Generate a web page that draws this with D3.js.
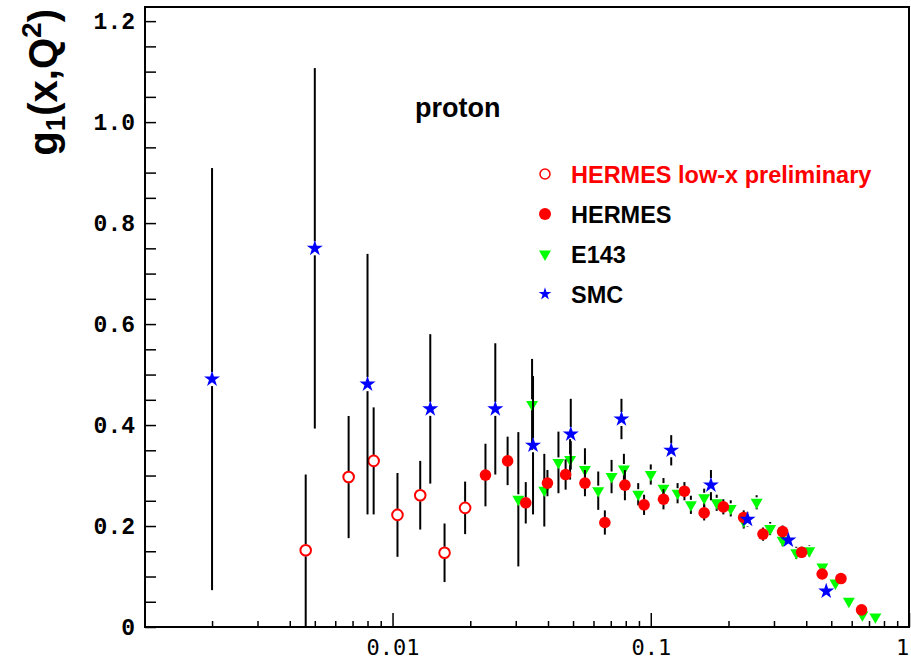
<!DOCTYPE html>
<html>
<head>
<meta charset="utf-8">
<script src="https://cdn.jsdelivr.net/npm/d3@7"></script>
<style>
  body { margin: 0; background: #fff; }
  svg { display: block; }
</style>
</head>
<body>
<svg id="chart" width="911" height="665"></svg>
<script>
// Data
const smcX   = [0.002, 0.005, 0.008, 0.014, 0.025, 0.035, 0.049, 0.077, 0.12, 0.171, 0.237, 0.341, 0.478];
const smcY   = [0.491, 0.750, 0.481, 0.432, 0.432, 0.360, 0.382, 0.412, 0.350, 0.281, 0.213, 0.172, 0.071];
const smcErr = [0.418, 0.357, 0.258, 0.148, 0.130, 0.137, 0.070, 0.040, 0.030, 0.030, 0.015, 0.013, 0.010];

const lowxX   = [0.00461, 0.00676, 0.00845, 0.01045, 0.0128, 0.0159, 0.0191];
const lowxY   = [0.152, 0.297, 0.329, 0.222, 0.261, 0.147, 0.236];
const lowxErr = [0.150, 0.121, 0.106, 0.083, 0.068, 0.058, 0.052];

const hermesX   = [0.0229, 0.0279, 0.0328, 0.0398, 0.0468, 0.0556, 0.0664, 0.0794, 0.0942, 0.112, 0.135, 0.161, 0.191, 0.229, 0.272, 0.324, 0.384, 0.461, 0.545, 0.655];
const hermesY   = [0.301, 0.329, 0.246, 0.285, 0.302, 0.285, 0.207, 0.281, 0.242, 0.253, 0.269, 0.226, 0.238, 0.217, 0.184, 0.189, 0.148, 0.105, 0.096, 0.034];
const hermesErr = [0.062, 0.048, 0.041, 0.026, 0.030, 0.026, 0.024, 0.030, 0.020, 0.020, 0.018, 0.015, 0.015, 0.014, 0.013, 0.012, 0.011, 0.010, 0.009, 0.008];

const e143X   = [0.0307, 0.0347, 0.0387, 0.0439, 0.0487, 0.0556, 0.0626, 0.0705, 0.0787, 0.0894, 0.100, 0.112, 0.127, 0.143, 0.161, 0.180, 0.204, 0.229, 0.257, 0.290, 0.324, 0.366, 0.411, 0.462, 0.519, 0.585, 0.660, 0.741];
const e143Y   = [0.253, 0.441, 0.271, 0.326, 0.332, 0.312, 0.270, 0.298, 0.313, 0.263, 0.302, 0.275, 0.265, 0.242, 0.256, 0.246, 0.235, 0.210, 0.247, 0.195, 0.172, 0.147, 0.151, 0.119, 0.087, 0.051, 0.024, 0.020];
const e143Err = [0.133, 0.090, 0.072, 0.061, 0.040, 0.042, 0.038, 0.033, 0.030, 0.022, 0.020, 0.020, 0.020, 0.018, 0.018, 0.016, 0.016, 0.015, 0.014, 0.013, 0.012, 0.012, 0.011, 0.010, 0.010, 0.008, 0.007, 0.006];

const xTickLabels = [0.01, 0.1, 1];
const yTickLabels = [0, 0.2, 0.4, 0.6, 0.8, 1.0, 1.2];

const legendLabels = ["HERMES low-x preliminary", "HERMES", "E143", "SMC"];

// Layout
const svg = d3.select("#chart");
const margin = {left: 145, right: 909, top: 7, bottom: 627};

const x = d3.scaleLog().domain([0.0011, 1]).range([margin.left, margin.right]);
const y = d3.scaleLinear().domain([0, 1.228]).range([margin.bottom, margin.top]);

const zip = (xs, ys, es) => xs.map((v, i) => ({x: v, y: ys[i], e: es[i]}));

// clip for the plot area
svg.append("clipPath").attr("id", "plotClip")
  .append("rect")
  .attr("x", margin.left).attr("y", margin.top)
  .attr("width", margin.right - margin.left).attr("height", margin.bottom - margin.top);

const plot = svg.append("g").attr("clip-path", "url(#plotClip)");

const star = d3.symbol().type(d3.symbolStar).size(80);
const tri = d3.symbol().type(d3.symbolTriangle).size(62);

function drawErrors(data, gap) {
  const g = plot.append("g").attr("stroke", "#000").attr("stroke-width", 2);
  data.forEach(d => {
    const yc = y(d.y), yt = y(d.y + d.e), yb = y(d.y - d.e);
    if (yc - gap > yt) g.append("line").attr("x1", x(d.x)).attr("x2", x(d.x)).attr("y1", yt).attr("y2", yc - gap);
    if (yb > yc + gap) g.append("line").attr("x1", x(d.x)).attr("x2", x(d.x)).attr("y1", yc + gap).attr("y2", yb);
  });
}

// E143
const e143 = zip(e143X, e143Y, e143Err);
drawErrors(e143, 5);
plot.append("g").selectAll("path").data(e143).enter().append("path")
  .attr("d", tri)
  .attr("transform", d => `translate(${x(d.x)},${y(d.y)}) rotate(180)`)
  .attr("fill", "#00ff00");

// HERMES
const hermes = zip(hermesX, hermesY, hermesErr);
drawErrors(hermes, 5);
plot.append("g").selectAll("circle").data(hermes).enter().append("circle")
  .attr("cx", d => x(d.x)).attr("cy", d => y(d.y)).attr("r", 5.8)
  .attr("fill", "#ff0000");

// HERMES low-x preliminary
const lowx = zip(lowxX, lowxY, lowxErr);
drawErrors(lowx, 6);
plot.append("g").selectAll("circle").data(lowx).enter().append("circle")
  .attr("cx", d => x(d.x)).attr("cy", d => y(d.y)).attr("r", 5.3)
  .attr("fill", "#fff").attr("stroke", "#ff0000").attr("stroke-width", 2);

// SMC
const smc = zip(smcX, smcY, smcErr);
drawErrors(smc, 7);
plot.append("g").selectAll("path").data(smc).enter().append("path")
  .attr("d", star)
  .attr("transform", d => `translate(${x(d.x)},${y(d.y)})`)
  .attr("fill", "#0000ff");

// Axes
const yAxis = d3.axisLeft(y)
  .tickValues(d3.range(0, 1.2001, 0.05))
  .tickSize(-11)
  .tickPadding(10)
  .tickFormat(d => {
    const m = yTickLabels.find(v => Math.abs(v - d) < 1e-6);
    return m === undefined ? "" : (m === 0 ? "0" : d3.format(".1f")(m));
  });
const yg = svg.append("g").attr("transform", `translate(${margin.left},0)`).call(yAxis);
yg.select(".domain").remove();
yg.selectAll("line").attr("stroke-width", 1.5);
yg.selectAll("text")
  .attr("font-family", "Liberation Mono, Courier New, monospace")
  .attr("font-weight", "bold").attr("font-size", 23).attr("fill", "#000");

const minorX = [];
[0.001, 0.01, 0.1].forEach(dec => { for (let k = 2; k <= 9; k++) minorX.push(dec * k); });
const xMinor = d3.axisBottom(x).tickValues(minorX.filter(v => v >= 0.0011)).tickSize(-6).tickFormat("");
const xm = svg.append("g").attr("transform", `translate(0,${margin.bottom})`).call(xMinor);
xm.select(".domain").remove();
xm.selectAll("line").attr("stroke-width", 1.5);

const xAxis = d3.axisBottom(x).tickValues(xTickLabels).tickSize(-14).tickPadding(12)
  .tickFormat(d => d === 1 ? "1" : String(d));
const xg = svg.append("g").attr("transform", `translate(0,${margin.bottom})`).call(xAxis);
xg.select(".domain").remove();
xg.selectAll("line").attr("stroke-width", 1.5);
xg.selectAll("text")
  .attr("font-family", "DejaVu Sans Mono, monospace")
  .attr("font-size", 22).attr("fill", "#000")
  .attr("dx", d => d === 1 ? -7 : 0);

// Frame
svg.append("rect")
  .attr("x", margin.left).attr("y", margin.top)
  .attr("width", margin.right - margin.left).attr("height", margin.bottom - margin.top)
  .attr("fill", "none").attr("stroke", "#000").attr("stroke-width", 2);

// Y title
const title = svg.append("text")
  .attr("transform", "translate(57,9) rotate(-90)")
  .attr("text-anchor", "end")
  .attr("font-family", "Liberation Sans, Arial, Helvetica, sans-serif")
  .attr("font-weight", "bold").attr("font-size", 40);
title.append("tspan").text("g");
title.append("tspan").attr("font-size", 28).attr("dy", 8).text("1");
title.append("tspan").attr("dy", -8).text("(x,Q");
title.append("tspan").attr("font-size", 28).attr("dy", -16).text("2");
title.append("tspan").attr("dy", 16).text(")");

// proton label
svg.append("text")
  .attr("x", 415).attr("y", 117)
  .attr("font-family", "Liberation Sans, Arial, Helvetica, sans-serif")
  .attr("font-weight", "bold").attr("font-size", 27)
  .text("proton");

// Legend
const legendColors = ["#ff0000", "#000", "#000", "#000"];
const legend = svg.append("g");
legendLabels.forEach((lab, i) => {
  const ly = 174 + i * 40;
  const lx = 545;
  if (i === 0) legend.append("circle").attr("cx", lx).attr("cy", ly).attr("r", 5).attr("fill", "#fff").attr("stroke", "#ff0000").attr("stroke-width", 1.5);
  if (i === 1) legend.append("circle").attr("cx", lx).attr("cy", ly).attr("r", 6).attr("fill", "#ff0000");
  if (i === 2) legend.append("path").attr("d", tri).attr("transform", `translate(${lx},${ly}) rotate(180)`).attr("fill", "#00ff00");
  if (i === 3) legend.append("path").attr("d", d3.symbol().type(d3.symbolStar).size(50)).attr("transform", `translate(${lx},${ly})`).attr("fill", "#0000ff");
  legend.append("text")
    .attr("x", 571).attr("y", ly + 8.5)
    .attr("font-family", "Liberation Sans, Arial, Helvetica, sans-serif")
    .attr("font-weight", "bold").attr("font-size", 23.5)
    .attr("fill", legendColors[i])
    .text(lab);
});
</script>
</body>
</html>
